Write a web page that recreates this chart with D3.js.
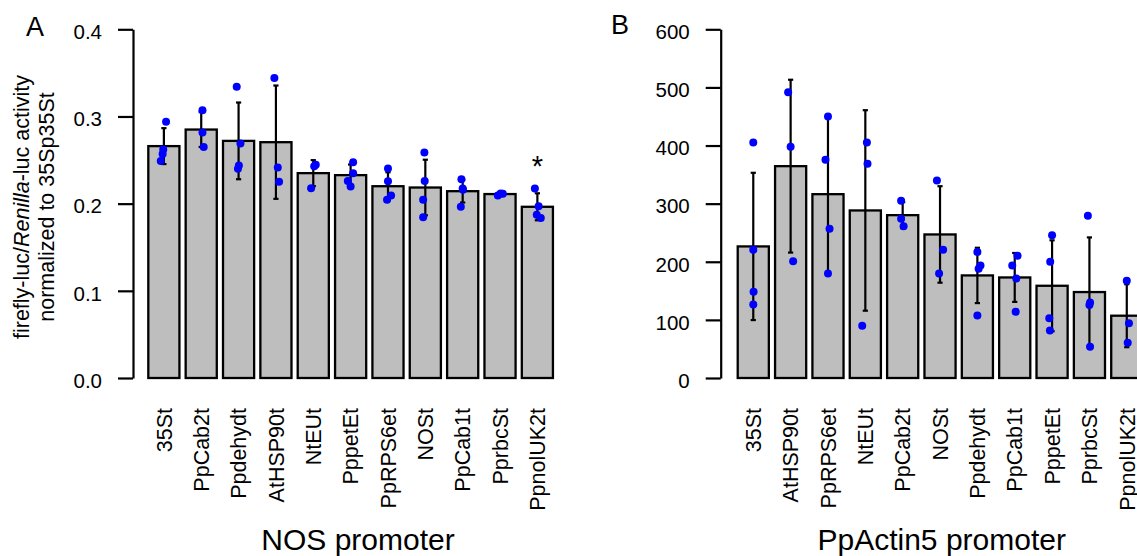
<!DOCTYPE html>
<html>
<head>
<meta charset="utf-8">
<script src="https://cdn.jsdelivr.net/npm/d3@7"></script>
<style>
  html, body { margin: 0; padding: 0; background: #fff; }
  svg { display: block; font-family: "Liberation Sans", Arial, Helvetica, sans-serif; }
</style>
</head>
<body>
<div id="chart"></div>
<script>
// ---- data ----
const nosCategories = ["35St", "PpCab2t", "Ppdehydt", "AtHSP90t", "NtEUt", "PppetEt",
  "PpRPS6et", "NOSt", "PpCab1t", "PprbcSt", "PpnolUK2t"];
const nosMeans = [0.266, 0.285, 0.272, 0.2705, 0.235, 0.2327, 0.22, 0.2185, 0.2143, 0.211, 0.1964];
const nosSd = [0.0206, 0.02, 0.044, 0.065, 0.0149, 0.0122, 0.016, 0.0319, 0.013, 0.0012, 0.0155];
// replicate values, each [value, horizontal jitter as fraction of bar width]
const nosPoints = [
  [[0.294, 0.07], [0.262, -0.02], [0.257, -0.04], [0.249, -0.1]],
  [[0.307, 0.04], [0.2816, 0.04], [0.265, 0.08]],
  [[0.334, -0.06], [0.269, 0.06], [0.2437, 0.01], [0.24, -0.02]],
  [[0.344, -0.05], [0.2415, 0.06], [0.225, 0.1]],
  [[0.2445, 0.08], [0.243, 0.03], [0.2178, -0.07]],
  [[0.2476, 0.08], [0.235, 0.08], [0.226, -0.09], [0.2197, 0]],
  [[0.2403, 0], [0.2258, 0], [0.2094, 0.1], [0.2044, -0.03]],
  [[0.2586, -0.03], [0.226, -0.02], [0.2044, -0.07], [0.1845, -0.07]],
  [[0.228, -0.04], [0.2174, 0], [0.216, 0.01], [0.1964, -0.06]],
  [[0.2094, -0.07], [0.2113, 0.09], [0.2116, 0.02]],
  [[0.2174, -0.08], [0.1971, 0.04], [0.1872, -0.02], [0.1834, 0.11]],
];
const nosTicks = [0, 0.1, 0.2, 0.3, 0.4];
const nosMarked = ["PpnolUK2t"];

const actCategories = ["35St", "AtHSP90t", "PpRPS6et", "NtEUt", "PpCab2t", "NOSt",
  "Ppdehydt", "PpCab1t", "PppetEt", "PprbcSt", "PpnolUK2t"];
const actMeans = [226.4, 364.5, 316.3, 288.3, 280.2, 247, 176.5, 173, 158.7, 147.9, 107.2];
const actSd = [126.7, 148.7, 136.1, 172.5, 22.4, 83, 47.6, 42.1, 78.2, 94, 54.2];
const actPoints = [
  [[405.2, 0], [220.6, 0], [148.4, 0.01], [126.6, 0]],
  [[491.7, -0.08], [397.7, 0], [201.1, 0.08]],
  [[449.9, 0], [375.4, -0.08], [256.7, 0.05], [179.9, 0]],
  [[405.2, 0.05], [368.5, 0.07], [90, -0.1]],
  [[304.9, -0.05], [273.9, -0.05], [261.3, 0.03]],
  [[339.8, -0.1], [220.6, 0.1], [179.9, -0.03]],
  [[216.6, 0], [193.7, 0.1], [188, 0.04], [107.7, 0]],
  [[210.3, 0.09], [193.7, -0.08], [171.3, 0.05], [114, 0.03]],
  [[245.8, 0], [200, -0.06], [102.6, -0.09], [81.9, -0.07]],
  [[279, -0.05], [130, 0.02], [125.5, 0], [53.9, 0.02]],
  [[167.3, 0], [94, 0.07], [60.7, 0.03]],
];
const actTicks = [0, 100, 200, 300, 400, 500, 600];
const actMarked = [];

class BarDotPanel {
  constructor({ svg, categories, means, sd, points, ticks, tickFormat, marked, letter, title, layout }) {
    this.svg = svg;
    this.categories = categories;
    this.means = means;
    this.sd = sd;
    this.points = points;
    this.ticks = ticks;
    this.tickFormat = tickFormat;
    this.marked = marked;
    this.letter = letter;
    this.title = title;
    this.layout = layout;
    this.init();
  }

  init() {
    const L = this.layout;
    this.top = 29.3;
    this.bottom = 378;

    this.x = d3.scaleBand()
      .domain(this.categories)
      .range([L.x0, L.x0 + L.step * this.categories.length])
      .paddingInner(1 / 6)
      .paddingOuter(1 / 12);
    this.y = d3.scaleLinear()
      .domain(d3.extent(this.ticks))
      .range([this.bottom, this.top]);

    this.g = this.svg.append("g");
    this.render();
  }

  render() {
    this.renderYAxis();
    this.renderBars();
    this.renderErrors();
    this.renderPoints();
    this.renderXLabels();
    this.renderText();
  }

  renderYAxis() {
    this.g.append("g")
      .attr("transform", `translate(${this.layout.axisX},0)`)
      .call(
        d3.axisLeft(this.y)
          .tickValues(this.ticks)
          .tickFormat(this.tickFormat)
          .tickSize(15)
          .tickSizeOuter(0)
          .tickPadding(16)
      )
      .call((g) => g.select(".domain").attr("stroke", "#000").attr("stroke-width", 2.2))
      .call((g) => g.selectAll(".tick line").attr("stroke", "#000").attr("stroke-width", 2.2))
      .call((g) =>
        g.selectAll(".tick text")
          .attr("fill", "#000")
          .attr("font-size", 20.5)
          .attr("dy", "0.45em")
          .attr("font-family", null)
      );
  }

  renderBars() {
    this.g.append("g")
      .selectAll("rect")
      .data(this.categories)
      .join("rect")
      .attr("x", (d) => this.x(d))
      .attr("y", (d, i) => this.y(this.means[i]))
      .attr("width", this.x.bandwidth())
      .attr("height", (d, i) => this.y(0) - this.y(this.means[i]))
      .attr("fill", "#bebebe")
      .attr("stroke", "#000")
      .attr("stroke-width", 2.3);
  }

  renderErrors() {
    const cx = (d) => this.x(d) + this.x.bandwidth() / 2;
    const eg = this.g.append("g")
      .attr("stroke", "#000")
      .attr("stroke-width", 2.2)
      .selectAll("g")
      .data(this.categories)
      .join("g");
    eg.append("line")
      .attr("x1", cx)
      .attr("x2", cx)
      .attr("y1", (d, i) => this.y(this.means[i] + this.sd[i]))
      .attr("y2", (d, i) => this.y(this.means[i] - this.sd[i]));
    [1, -1].forEach((s) => {
      eg.append("line")
        .attr("x1", (d) => cx(d) - 2.6)
        .attr("x2", (d) => cx(d) + 2.6)
        .attr("y1", (d, i) => this.y(this.means[i] + s * this.sd[i]))
        .attr("y2", (d, i) => this.y(this.means[i] + s * this.sd[i]));
    });
  }

  renderPoints() {
    const flat = this.categories.flatMap((c, i) =>
      this.points[i].map(([v, j]) => ({ c, v, j }))
    );
    this.g.append("g")
      .selectAll("circle")
      .data(flat)
      .join("circle")
      .attr("cx", (d) => this.x(d.c) + this.x.bandwidth() * (0.5 + d.j))
      .attr("cy", (d) => this.y(d.v))
      .attr("r", 4)
      .attr("fill", "#0000ff");
  }

  renderXLabels() {
    this.g.append("g")
      .selectAll("text")
      .data(this.categories)
      .join("text")
      .attr("transform", (d) => `translate(${this.x(d) + this.x.bandwidth() / 2},408) rotate(-90)`)
      .attr("text-anchor", "end")
      .attr("dy", "0.36em")
      .attr("font-size", 21.5)
      .text((d) => d);
  }

  renderText() {
    const L = this.layout;
    this.g.append("text")
      .attr("x", L.letterX)
      .attr("y", L.letterY)
      .attr("font-size", 27)
      .text(this.letter);

    this.g.append("text")
      .attr("x", L.titleX)
      .attr("y", 550)
      .attr("text-anchor", "middle")
      .attr("font-size", 30)
      .text(this.title);

    // significance marks above the highest replicate
    this.g.append("g")
      .selectAll("text")
      .data(this.marked)
      .join("text")
      .attr("x", (d) => this.x(d) + this.x.bandwidth() / 2)
      .attr("y", (d) => {
        const i = this.categories.indexOf(d);
        const hi = Math.max(this.means[i] + this.sd[i], d3.max(this.points[i], (p) => p[0]));
        return this.y(hi) - 12;
      })
      .attr("text-anchor", "middle")
      .attr("font-size", 29)
      .text("*");
  }
}

const svg = d3.select("#chart")
  .append("svg")
  .attr("width", 1137)
  .attr("height", 556)
  .attr("viewBox", [0, 0, 1137, 556]);

new BarDotPanel({
  svg,
  categories: nosCategories,
  means: nosMeans,
  sd: nosSd,
  points: nosPoints,
  ticks: nosTicks,
  tickFormat: d3.format(".1f"),
  marked: nosMarked,
  letter: "A",
  title: "NOS promoter",
  layout: { x0: 145.2, step: 37.35, axisX: 133, letterX: 26, letterY: 36, titleX: 358 },
});

new BarDotPanel({
  svg,
  categories: actCategories,
  means: actMeans,
  sd: actSd,
  points: actPoints,
  ticks: actTicks,
  tickFormat: d3.format("d"),
  marked: actMarked,
  letter: "B",
  title: "PpActin5 promoter",
  layout: { x0: 734.6, step: 37.35, axisX: 720.7, letterX: 611, letterY: 34, titleX: 941.7 },
});

// y-axis title of panel A, two rotated lines
const yTitle = svg.append("g")
  .attr("font-size", 21.5)
  .attr("text-anchor", "middle");
const line1 = yTitle.append("text")
  .attr("transform", "translate(28.5,207) rotate(-90)");
line1.append("tspan").text("firefly-luc/");
line1.append("tspan").attr("font-style", "italic").text("Renilla");
line1.append("tspan").text("-luc activity");
yTitle.append("text")
  .attr("transform", "translate(54,207) rotate(-90)")
  .text("normalized to 35Sp35St");
</script>
</body>
</html>
